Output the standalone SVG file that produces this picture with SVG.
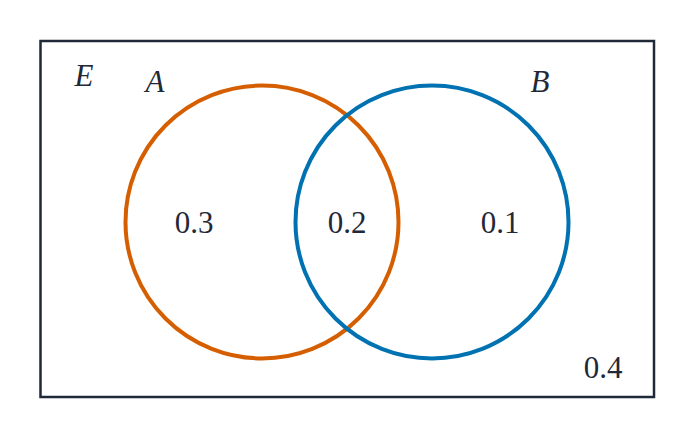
<svg xmlns="http://www.w3.org/2000/svg" width="695" height="440" viewBox="0 0 695 440">
<style>
.t{font-family:"Liberation Serif","DejaVu Serif",serif;font-size:31px;fill:#1f2937;text-anchor:middle}
.i{font-style:italic}
.c{fill:none;stroke-width:4}
</style>
<rect width="695" height="440" fill="#fff"/>
<g id="universe"><rect x="40.5" y="41" width="613.5" height="356" fill="none" stroke="#1f2937" stroke-width="2.5"/>
<text class="t i" x="84" y="86">E</text><text class="t" x="603" y="378">0.4</text></g>
<g id="setA"><circle class="c" cx="262" cy="222" r="136.5" stroke="#D55E00"/>
<text class="t i" x="155" y="92">A</text><text class="t" x="194" y="233">0.3</text></g>
<g id="setB"><circle class="c" cx="432" cy="222" r="136.5" stroke="#0072B2"/>
<text class="t i" x="540" y="92">B</text><text class="t" x="500" y="233">0.1</text></g>
<g id="intersection"><text class="t" x="347" y="233">0.2</text></g>
<g id="connectors"/>
</svg>
